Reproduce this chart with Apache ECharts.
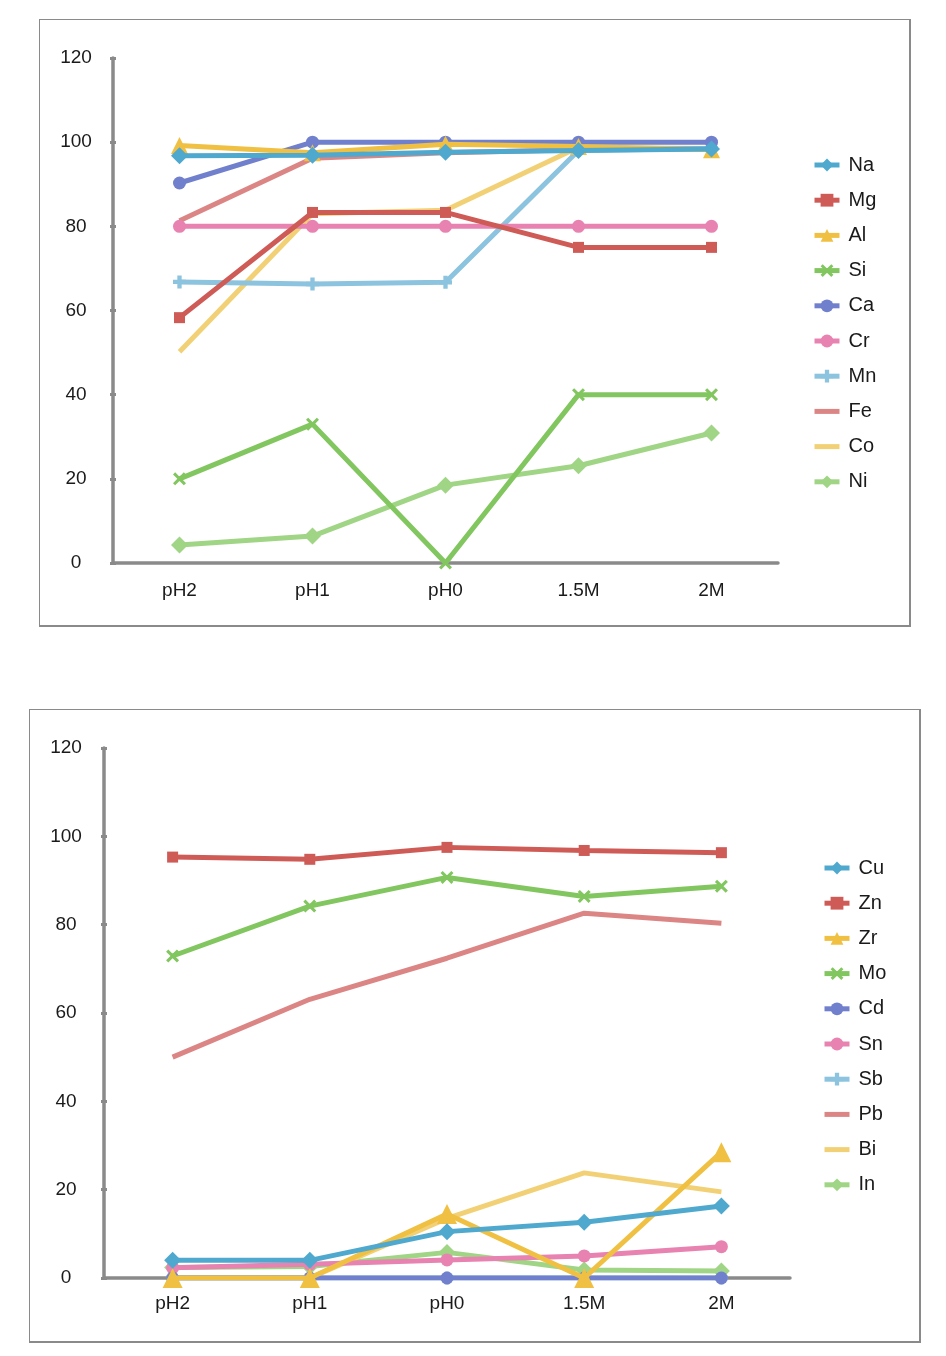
<!DOCTYPE html>
<html>
<head>
<meta charset="utf-8">
<script src="https://cdn.jsdelivr.net/npm/echarts@6/dist/echarts.min.js"></script>
<style>
  html, body { margin: 0; padding: 0; background: #fff; }
  body { width: 946px; height: 1356px; position: relative; overflow: hidden; }
  .frame { position: absolute; box-sizing: border-box; border: 1px solid #8a8a8a; border-right-width: 2px; border-bottom-width: 2px; }
  .chart { position: absolute; }
</style>
</head>
<body>
<div class="frame" style="left:39px;top:19px;width:872px;height:608px;"></div>
<div id="c1" class="chart" style="left:39px;top:19px;width:872px;height:608px;"></div>
<div class="frame" style="left:29px;top:709px;width:892px;height:634px;"></div>
<div id="c2" class="chart" style="left:29px;top:709px;width:892px;height:634px;"></div>
<script>
// ---- data ----
const categories = ['pH2', 'pH1', 'pH0', '1.5M', '2M'];
const yTicks = [0, 20, 40, 60, 80, 100, 120];

// top chart
const topNames = ['Na', 'Mg', 'Al', 'Si', 'Ca', 'Cr', 'Mn', 'Fe', 'Co', 'Ni'];
const Na = [96.8, 96.9, 97.6, 98.0, 98.4];
const Mg = [58.3, 83.3, 83.3, 75.0, 75.0];
const Al = [99.2, 97.5, 99.5, 99.0, 98.2];
const Si = [20.0, 33.0, 0.0, 40.0, 40.0];
const Ca = [90.3, 100.0, 100.0, 100.0, 100.0];
const Cr = [80.0, 80.0, 80.0, 80.0, 80.0];
const Mn = [66.8, 66.3, 66.7, 98.0, 98.5];
const Fe = [81.3, 96.2, 97.5, 98.2, 98.5];
const Co = [50.2, 83.0, 83.8, 98.8, 98.5];
const Ni = [4.3, 6.4, 18.5, 23.1, 30.9];
const topValues = [Na, Mg, Al, Si, Ca, Cr, Mn, Fe, Co, Ni];

// bottom chart
const botNames = ['Cu', 'Zn', 'Zr', 'Mo', 'Cd', 'Sn', 'Sb', 'Pb', 'Bi', 'In'];
const Cu = [4.0, 4.0, 10.5, 12.6, 16.3];
const Zn = [95.3, 94.8, 97.5, 96.8, 96.3];
const Zr = [0.0, 0.0, 14.5, 0.0, 28.5];
const Mo = [72.9, 84.2, 90.7, 86.4, 88.7];
const Cd = [0.0, 0.0, 0.0, 0.0, 0.0];
const Sn = [2.3, 3.1, 4.1, 5.0, 7.1];
const Sb = [0.0, 0.0, 0.0, 0.0, 0.0];
const Pb = [50.0, 63.1, 72.4, 82.6, 80.3];
const Bi = [0.0, 0.0, 13.5, 23.8, 19.5];
const In = [2.4, 2.6, 5.8, 1.8, 1.6];
const botValues = [Cu, Zn, Zr, Mo, Cd, Sn, Sb, Pb, Bi, In];

// ---- styles ----
const colors = ['#4fa9cf', '#cf5b57', '#f0c043', '#82c65f', '#7080cc', '#e882b0', '#8cc3de', '#dc8585', '#f2d176', '#a0d585'];
const PLUS = 'path://M4,0H8V4H12V8H8V12H4V8H0V4H4Z';
const XMARK = 'path://M2,0L6,4L10,0L12,2L8,6L12,10L10,12L6,8L2,12L0,10L4,6L0,2Z';
const BAR = 'path://M0,0H25V5H0Z';
const symbols = ['diamond', 'rect', 'triangle', XMARK, 'circle', 'circle', PLUS, 'none', 'none', 'diamond'];
const topSizes = [17, 11, 17, 13, 13, 13, 13, 0, 0, 17];
const botSizes = [17, 11, 20, 13, 13, 13, 13, 0, 0, 17];

const FONT = 'Liberation Sans';
const LEG_FS = 20;

function buildOption(names, values, sizes, g, leg, labelMargin, xMargin) {
  const series = names.map((n, i) => ({
    name: n,
    type: 'line',
    data: values[i],
    symbol: symbols[i],
    symbolSize: sizes[i] || 4,
    showSymbol: symbols[i] !== 'none',
    z: 30 - i,
    lineStyle: { width: 5, color: colors[i] },
    itemStyle: { color: colors[i], borderWidth: 0 },
    emphasis: { disabled: true },
    animation: false
  }));
  const yBase = {
    type: 'value', min: yTicks[0], max: yTicks[yTicks.length - 1], interval: yTicks[1] - yTicks[0],
    position: 'left', splitLine: { show: false }
  };
  return {
    animation: false,
    grid: g,
    legend: {
      orient: 'vertical', left: leg.left, top: leg.firstCenter - LEG_FS / 2,
      padding: 0,
      itemWidth: 25, itemHeight: 16, itemGap: 35.2 - LEG_FS,
      lineStyle: { width: 5 },
      textStyle: { fontFamily: FONT, fontSize: LEG_FS, color: '#1a1a1a', padding: [0, 0, 0, 4] },
      data: names.map((n, i) => symbols[i] === 'none' ? { name: n, icon: BAR } : { name: n }),
      selectedMode: false
    },
    xAxis: {
      type: 'category', data: categories, boundaryGap: true,
      axisLine: { lineStyle: { color: '#8a8a8a', width: 3.5 } },
      axisTick: { show: false },
      axisLabel: { fontFamily: FONT, fontSize: 19, color: '#1a1a1a', margin: xMargin }
    },
    yAxis: [
      Object.assign({}, yBase, {
        axisLine: { show: true, lineStyle: { color: '#8a8a8a', width: 3.5 } },
        axisTick: { show: true, length: 3, lineStyle: { color: '#8a8a8a', width: 3 } },
        axisLabel: { fontFamily: FONT, fontSize: 19, color: '#1a1a1a', align: 'center', margin: labelMargin }
      }),
      Object.assign({}, yBase, {
        axisLine: { show: false },
        axisTick: { show: true, inside: true, length: 3, lineStyle: { color: '#8a8a8a', width: 3 } },
        axisLabel: { show: false }
      })
    ],
    series: series
  };
}

const c1 = echarts.init(document.getElementById('c1'), null, { renderer: 'canvas' });
c1.setOption(buildOption(topNames, topValues, topSizes,
  { left: 74, top: 39, width: 665, height: 505 },
  { left: 773, firstCenter: 165 - 19 }, 37, 18));

const c2 = echarts.init(document.getElementById('c2'), null, { renderer: 'canvas' });
c2.setOption(buildOption(botNames, botValues, botSizes,
  { left: 75, top: 39, width: 686, height: 530 },
  { left: 793, firstCenter: 868 - 709 }, 38, 16));
</script>
</body>
</html>
